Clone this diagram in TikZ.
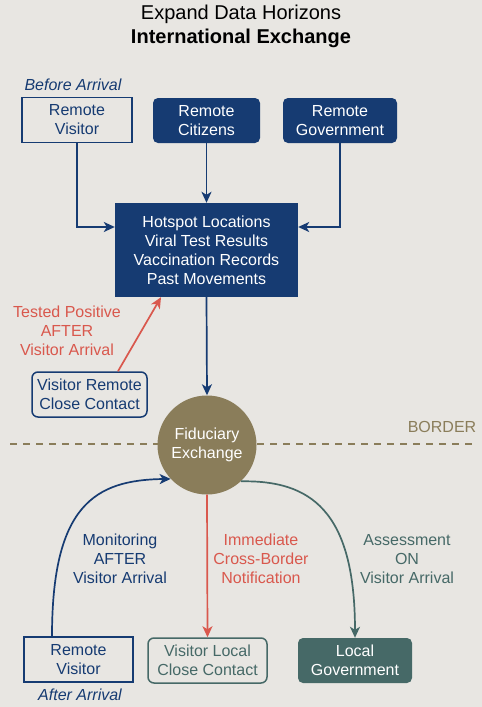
\documentclass[tikz,border=0pt]{standalone}
\usepackage{fontspec}
\setmainfont{Liberation Sans}
\usetikzlibrary{arrows.meta,shapes}
\definecolor{paper}{HTML}{E8E6E2}
\definecolor{navy}{HTML}{163B72}
\definecolor{olive}{HTML}{8A7D5A}
\definecolor{alertred}{HTML}{D9584D}
\definecolor{slate}{HTML}{466967}
\tikzset{
  tip/.style={-{Stealth[length=11pt,width=10pt,inset=3pt]}, line width=1.7pt},
  lbl/.style={font=\fontsize{16}{19}\selectfont, align=center}
}

\begin{document}
\begin{tikzpicture}[x=1pt,y=-1pt]
    \tikzstyle{plainbox}=[rectangle, lbl, draw=navy, line width=1.5pt, fill=paper,
    text=navy, minimum width=110pt, minimum height=45pt]
    \tikzstyle{fillbox}=[rectangle, lbl, rounded corners=5pt, fill=navy,
    text=white, minimum height=45pt]
    \useasboundingbox[fill=paper] (0,0) rectangle (482,707);

\node[lbl, font=\fontsize{20}{24}\selectfont] (title) at (241,26)
    {Expand Data Horizons\\\textbf{International Exchange}};

\node[lbl, font=\fontsize{16}{19}\selectfont\itshape, text=navy] (before) at (73,85) {Before Arrival};
\node[plainbox] (rv1) at (77,120) {Remote\\Visitor};
\node[fillbox, minimum width=107pt] (cit) at (206.5,120.5) {Remote\\Citizens};
\node[fillbox, minimum width=114pt] (gov) at (340,120.5) {Remote\\Government};

\node[rectangle, lbl, fill=navy, text=white, minimum width=183pt,
    minimum height=94pt] (hot) at (206.5,250)
    {Hotspot Locations\\Viral Test Results\\Vaccination Records\\Past Movements};

\node[rectangle, lbl, rounded corners=6pt, draw=navy, line width=1.5pt, text=navy,
    minimum width=115pt, minimum height=45pt] (vrc) at (89.5,394.5)
    {Visitor Remote\\Close Contact};
\node[lbl, text=alertred] (tested) at (67,331) {Tested Positive\\AFTER\\Visitor Arrival};

% border line
\coordinate (bl) at (10,444);
\coordinate (br) at (473,444);
\draw[olive, line width=1.5pt, dash pattern=on 7pt off 6pt] (bl) -- (br);
\node[lbl, text=olive] (border) at (442,427) {BORDER};

\node[circle, lbl, fill=olive, text=white, minimum size=99pt, inner sep=0pt]
    (fid) at (207,445) {Fiduciary\\Exchange};

\node[plainbox, minimum width=109pt] (rv2) at (78.5,659.5) {Remote\\Visitor};
\node[lbl, font=\fontsize{16}{19}\selectfont\itshape, text=navy] (after) at (80,695) {After Arrival};
\node[rectangle, lbl, rounded corners=6pt, draw=slate, line width=1.5pt, text=slate,
    minimum width=119pt, minimum height=45pt] (vlc) at (207.5,660.5)
    {Visitor Local\\Close Contact};
\node[fillbox, fill=slate, minimum width=114pt] (lgov) at (355,660.5) {Local\\Government};

\node[lbl, text=navy] (monitor) at (120,559) {Monitoring\\AFTER\\Visitor Arrival};
\node[lbl, text=alertred] (notify) at (261,559) {Immediate\\Cross-Border\\Notification};
\node[lbl, text=slate] (assess) at (407,559) {Assessment\\ON\\Visitor Arrival};

% arrows above the border
\draw[tip, navy] (rv1.south) |- ([yshift=23pt]hot.west);
\draw[tip, navy] (cit.south) -- (hot.north);
\draw[tip, navy] (gov.south) |- ([yshift=23pt]hot.east);
\draw[tip, navy] (hot.south) -- (fid.north);
\draw[tip, alertred] ([xshift=28.5pt]vrc.north) -- ([xshift=-45.5pt]hot.south);

% arrows below the border
\draw[tip, navy] ([xshift=-26.5pt]rv2.north) .. controls (52,505) and (95,480) .. (fid.223);
\draw[tip, alertred] (fid.south) -- (vlc.north);
\draw[tip, slate] (fid.313) .. controls (310,480) and (355,510) .. (lgov.north);

\end{tikzpicture}
\end{document}
